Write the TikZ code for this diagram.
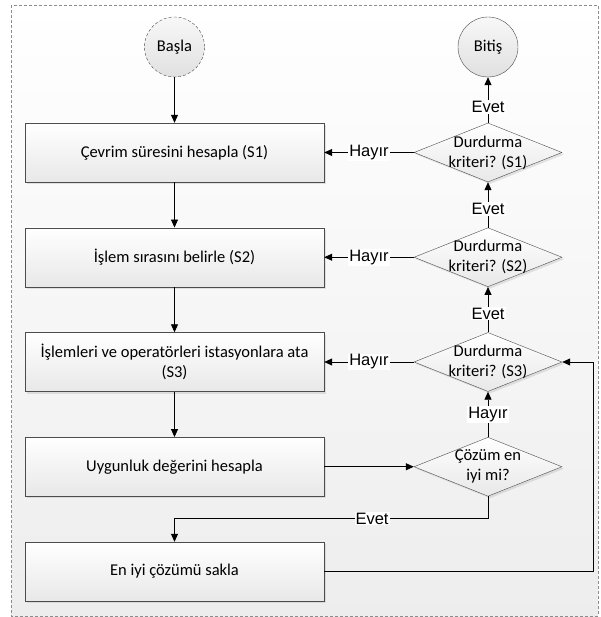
\documentclass[tikz,border=0pt]{standalone}
\usepackage{fontspec}
\setmainfont{Carlito}
\newfontfamily\labelfont{Liberation Sans}
\usetikzlibrary{arrows.meta, shapes.geometric, shadows, positioning}

\tikzset{
	frame/.style = {draw=black!45, dash pattern=on 3pt off 2pt, top color=white, bottom color=black!7},
	proc/.style = {draw=black!70, rectangle, minimum width=299pt, minimum height=59pt, align=center,
		top color=white, bottom color=black!9, drop shadow={shadow xshift=2pt, shadow yshift=-2pt, opacity=0.2}},
	decision/.style = {draw=black!70, diamond, shape aspect=2.5, inner sep=-6pt, minimum width=148pt,
		minimum height=59pt, align=center, top color=white, bottom color=black!9,
		drop shadow={shadow xshift=2pt, shadow yshift=-2pt, opacity=0.2}},
	term/.style = {draw=black!70, circle, minimum size=60pt, inner sep=0pt, top color=black!3, bottom color=black!12},
	arr/.style = {-{Triangle[length=8pt, width=7pt]}, line width=0.8pt},
	lbl/.style = {fill=white, inner sep=1pt, font=\labelfont\fontsize{16.5}{20}\selectfont}
}

\begin{document}
\begin{tikzpicture}[on grid, node distance = 104.75pt and 313.5pt, font=\fontsize{16.5}{20}\selectfont]
	\useasboundingbox (0,0) rectangle (600pt,-617pt);
	\draw[frame] (11pt,-5pt) rectangle (598pt,-616pt);
	
	\node[term, dash pattern=on 3pt off 2pt] (start) at (174.5pt,-47pt) {Başla};
	\node[proc, below = 105.5pt of start] (cycle) {Çevrim süresini hesapla (S1)};
	\node[proc, below = of cycle] (order) {İşlem sırasını belirle (S2)};
	\node[proc, below = of order] (assign) {İşlemleri ve operatörleri istasyonlara ata\\(S3)};
	\node[proc, below = of assign] (fit) {Uygunluk değerini hesapla};
	\node[proc, below = of fit] (best) {En iyi çözümü sakla};
	
	\node[decision, right = of cycle] (stop1) {Durdurma\\kriteri? (S1)};
	\node[decision, right = of order] (stop2) {Durdurma\\kriteri? (S2)};
	\node[decision, right = of assign] (stop3) {Durdurma\\kriteri? (S3)};
	\node[decision, right = of fit] (check) {Çözüm en\\iyi mi?};
	\node[term, right = of start] (finish) {Bitiş};
	
	\coordinate[below = 22pt of check.south] (bend);
	
	\draw[arr] (start) -- (cycle);
	\draw[arr] (cycle) -- (order);
	\draw[arr] (order) -- (assign);
	\draw[arr] (assign) -- (fit);
	\draw[arr] (fit) -- (check);
	
	\draw[arr] (stop1) -- node[lbl, pos=0.35] {Evet} (finish);
	\draw[arr] (stop2) -- node[lbl, pos=0.41] {Evet} (stop1);
	\draw[arr] (stop3) -- node[lbl, pos=0.41] {Evet} (stop2);
	\draw[arr] (check) -- node[lbl] {Hayır} (stop3);
	
	\draw[arr] (stop1) -- node[lbl] {Hayır} (cycle);
	\draw[arr] (stop2) -- node[lbl] {Hayır} (order);
	\draw[arr] (stop3) -- node[lbl] {Hayır} (assign);
	
	\draw[arr] (check.south) -- (bend) -- node[lbl, pos=0.37] {Evet} (bend -| best.north) -- (best.north);
	\draw[arr] (best.east) -- ++(269pt,0) |- (stop3.east);
\end{tikzpicture}
\end{document}
